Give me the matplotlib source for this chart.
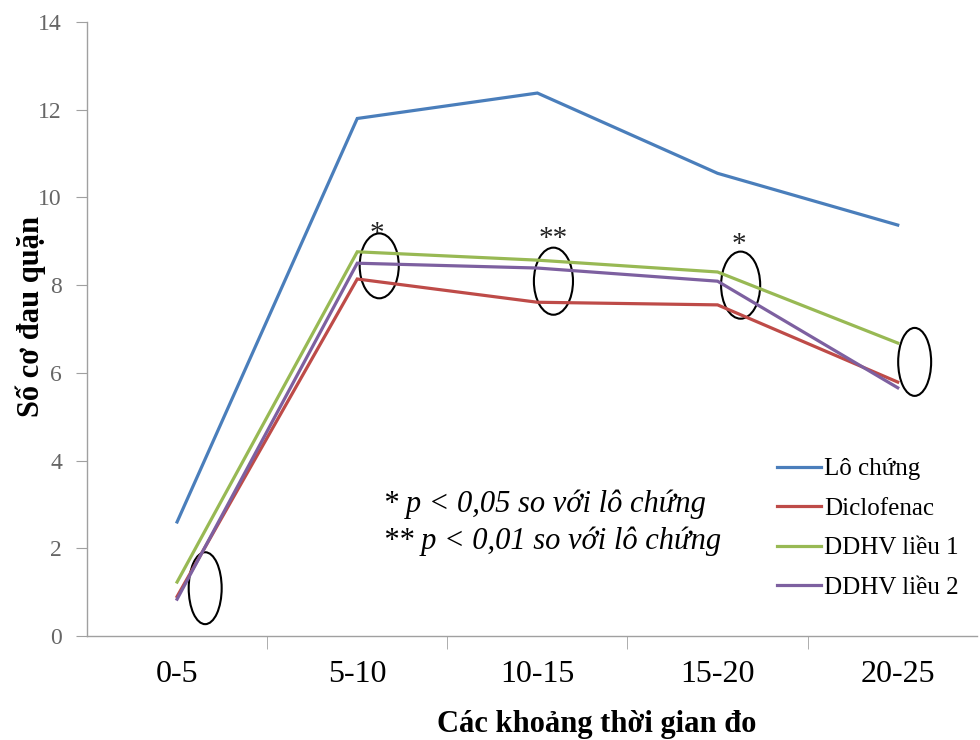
import matplotlib
matplotlib.use("Agg")
import matplotlib.pyplot as plt
from matplotlib.patches import Ellipse

# Data
categories = ['0-5', '5-10', '10-15', '15-20', '20-25']
lo_chung = [2.6, 11.8, 12.38, 10.55, 9.37]
diclofenac = [0.9, 8.14, 7.61, 7.55, 5.79]
ddhv_1 = [1.23, 8.76, 8.57, 8.3, 6.68]
ddhv_2 = [0.84, 8.5, 8.39, 8.09, 5.66]

series_names = ['Lô chứng', 'Diclofenac', 'DDHV liều 1', 'DDHV liều 2']
series_colors = ['#4A7EBB', '#BE4B48', '#98B954', '#7D60A0']

# significance marks: (category position, y position, text)
star_x = [1.11, 2.09, 3.12]
star_y = [9.0, 8.9, 8.75]
star_text = ['*', '**', '*']

# circled points (x, y, width, height in data units)
circle_x = [0.156, 1.122, 2.089, 3.128, 4.094]
circle_y = [1.09, 8.44, 8.09, 8.0, 6.25]
circle_w = [0.183, 0.217, 0.217, 0.217, 0.183]
circle_h = [1.64, 1.48, 1.53, 1.53, 1.55]

serif = ['Liberation Serif', 'DejaVu Serif']
plt.rcParams['font.family'] = serif

fig = plt.figure(figsize=(9.8, 7.4), dpi=100)
ax = fig.add_axes([87 / 980, 1 - 636 / 740, 890 / 980, 614 / 740])

x = list(range(len(categories)))
for vals, name, col in zip([lo_chung, diclofenac, ddhv_1, ddhv_2], series_names, series_colors):
    ax.plot(x, vals, color=col, linewidth=2.3, label=name, solid_joinstyle='miter')

for cx, cy, w, h in zip(circle_x, circle_y, circle_w, circle_h):
    ax.add_patch(Ellipse((cx, cy), w, h, fill=False, edgecolor='black', linewidth=1.5))

for sx, sy, st in zip(star_x, star_y, star_text):
    ax.text(sx, sy, st, fontsize=21, ha='center', va='baseline', color='#222222')

ax.text(1.144, 3.0, '* p < 0,05 so với lô chứng', fontsize=22, style='italic', va='center', ha='left')
ax.text(1.144, 2.15, '** p < 0,01 so với lô chứng', fontsize=22, style='italic', va='center', ha='left')

ax.set_xlim(-0.5, 4.44)
ax.set_ylim(0, 14)

ax.set_yticks(range(0, 15, 2))
ax.tick_params(axis='y', direction='out', length=8, color='#a0a0a0', pad=10,
               labelsize=17, labelcolor='#666666')
ax.set_xticks(x)
ax.set_xticklabels(categories)
ax.set_xticks([0.5, 1.5, 2.5, 3.5], minor=True)
ax.tick_params(axis='x', which='major', length=0, pad=17, labelsize=23)
ax.tick_params(axis='x', which='minor', direction='out', length=9, color='#a0a0a0')

for side in ['top', 'right']:
    ax.spines[side].set_visible(False)
for side in ['left', 'bottom']:
    ax.spines[side].set_color('#a0a0a0')
    ax.spines[side].set_linewidth(1.0)

ax.set_ylabel('Số cơ đau quặn', fontsize=22, fontweight='bold')
ax.yaxis.set_label_coords(-0.046, 0.52)
ax.set_xlabel('Các khoảng thời gian đo', fontsize=22, fontweight='bold')
ax.xaxis.set_label_coords(0.573, -0.12)

ax.legend(loc='upper left', bbox_to_anchor=(0.775, 0.29), frameon=False,
          fontsize=18, handlelength=1.75, handletextpad=0.15, labelspacing=0.68,
          borderpad=0, borderaxespad=0)

fig.savefig('out.png', dpi=100)
